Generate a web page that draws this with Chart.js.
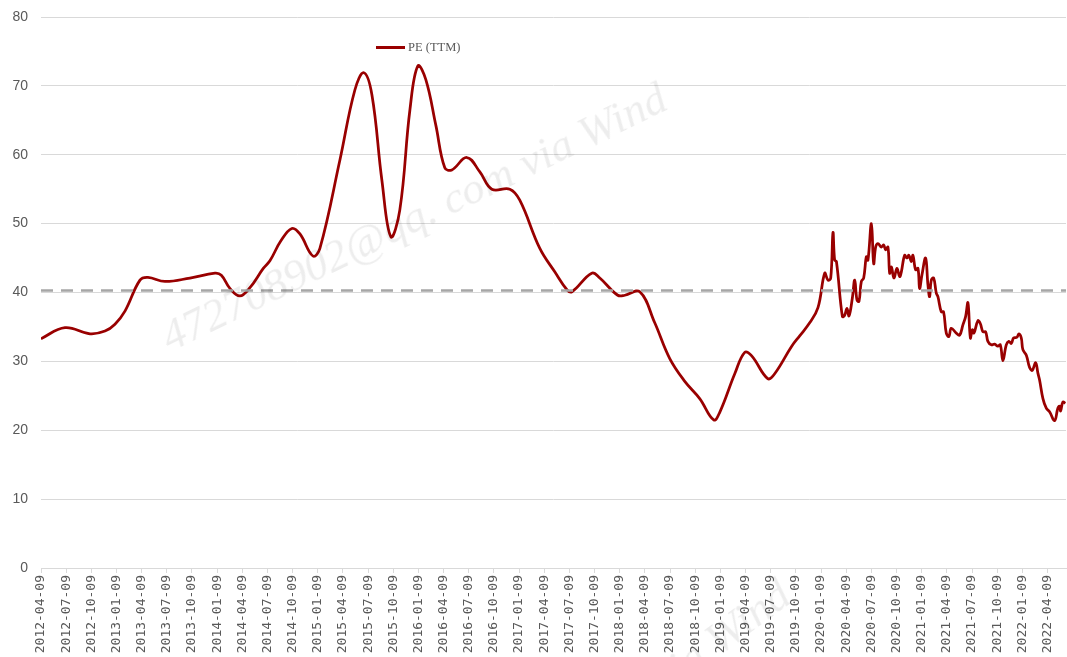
<!DOCTYPE html>
<html lang="zh">
<head>
  <meta charset="UTF-8" />
  <title>PE (TTM)</title>
  <script src="https://cdn.jsdelivr.net/npm/chart.js"></script>
  <style>
    body { margin: 0; background: #fff; }
    .wrap { position: relative; width: 1067px; height: 657px; overflow: hidden; }
    .legend {
      position: absolute; left: 376px; top: 40px;
      font: 12.5px "Liberation Serif", serif; color: #595959;
      display: flex; align-items: center;
    }
    .legend span.swatch { display: inline-block; width: 29px; height: 3px; background: #990000; margin-right: 3px; }
    .mark {
      position: absolute; white-space: nowrap; pointer-events: none;
      font: italic 45px "Liberation Serif", serif; color: rgba(0,0,0,0.07);
      transform-origin: 0 100%;
    }
  </style>
</head>
<body>
  <div class="wrap">
    <canvas id="peChart" width="1067" height="657"></canvas>
    <div class="legend"><span class="swatch"></span>PE (TTM)</div>
    <div class="mark" style="left:175px; top:310px; transform: rotate(-26deg);">472708902@qq. com via Wind</div>
    <div class="mark" style="left:350px; top:885px; transform: rotate(-36deg);">472708902@qq. com via Wind</div>
  </div>

  <script>
    // months elapsed since 2012-04-09
    const xMonths = [
      0, 2.86, 5.84, 7.63, 8.82, 10.01, 11.8, 12.75, 14.78, 17.76, 20.74, 21.5, 22.52, 23.71, 24.91,
      26.5, 27.29, 28.6, 29.91, 30.87, 32.42, 33.25, 35.63, 37.42, 38.49, 39.45, 40.64, 41.71, 42.78, 43.98,
      44.93, 45.88, 47.07, 48.14, 48.98, 50.77, 52.32, 53.75, 55.89, 57.08, 59.47, 61.25, 62.7, 63.3, 65.66,
      66.62, 68.76, 69.6, 71.39, 73.17, 74.96, 76.75, 78.53, 80.2, 80.92, 82.71, 83.9, 84.73, 86.64, 87.47,
      89.5, 90.45, 91.64, 92.63,
      93.43, 93.82, 94.15, 94.42, 94.62, 94.83, 95.54, 95.81, 96.09, 96.33, 96.73, 97.01, 97.28, 97.52,
      97.8, 98.08, 98.4, 98.59, 99.0, 99.27, 99.51, 99.78, 100.19, 100.46, 100.7, 100.97, 101.18, 101.38,
      101.69, 102.04, 102.37, 102.57, 102.96, 103.24, 103.47, 103.76, 103.95, 104.27, 104.55, 104.75,
      105.02, 105.46, 105.74, 105.94, 106.14, 106.42, 106.74, 106.93, 107.33, 107.6, 107.93, 108.24,
      108.52, 109.12, 109.52, 109.91, 110.23, 110.51, 110.8, 111.03, 111.22, 111.7, 111.98, 112.3,
      112.62, 112.89, 113.3, 113.69, 114.08, 114.37, 114.68, 115.08, 115.39, 115.68, 115.95, 116.35,
      116.59, 116.87, 117.06, 117.47, 117.86, 118.18, 118.58, 118.85, 119.05, 119.45, 119.85, 120.24,
      120.84, 121.23, 121.44, 121.56, 121.83, 122.12
    ];
    const peValues = [
      33.3, 34.9, 34.0, 34.4, 35.4, 37.3, 41.8, 42.2, 41.6, 42.1, 42.8, 42.5, 40.6, 39.5, 40.7,
      43.5, 44.6, 47.5, 49.3, 48.5, 45.3, 46.4, 59.2, 69.4, 71.9, 68.7, 56.3, 48.1, 52.0, 66.5,
      72.9, 70.9, 64.3, 58.1, 57.8, 59.6, 57.5, 55.0, 55.0, 53.4, 46.4, 43.0, 40.4, 40.1, 42.8,
      42.1, 39.6, 39.6, 40.1, 35.6, 30.4, 27.1, 24.6, 21.5, 22.6, 28.2, 31.3, 30.8, 27.5, 28.2,
      32.2, 33.7, 35.6, 37.8,
      42.8, 41.8, 42.1, 48.7, 44.7, 44.5, 36.5, 36.7, 37.7, 36.6, 39.2, 41.8, 38.9, 38.7,
      41.6, 42.1, 45.2, 44.7, 50.0, 44.2, 46.6, 47.1, 46.6, 46.9, 46.2, 46.6, 42.8, 43.7,
      42.1, 43.5, 42.3, 43.0, 45.4, 45.0, 45.4, 44.5, 45.4, 43.3, 43.5, 40.6,
      42.5, 45.0, 41.1, 39.4, 41.8, 42.1, 39.9, 39.4, 37.2, 37.2, 34.1, 33.6,
      34.8, 34.1, 33.8, 35.3, 36.5, 38.5, 33.4, 34.6, 34.1, 35.9, 35.5, 34.3,
      34.3, 32.9, 32.4, 32.5, 32.2, 32.4, 30.1, 32.4, 32.9, 32.6, 33.4, 33.5,
      34.0, 33.4, 31.7, 30.9, 29.1, 28.7, 29.8, 28.3, 27.3, 24.6, 23.2, 22.7,
      21.4, 23.2, 23.5, 22.8, 24.1, 23.9
    ];
    const avgPE = 40.3;
    const xEnd = 122.2;

    const tickLabels = [
      '2012-04-09', '2012-07-09', '2012-10-09', '2013-01-09', '2013-04-09', '2013-07-09', '2013-10-09',
      '2014-01-09', '2014-04-09', '2014-07-09', '2014-10-09', '2015-01-09', '2015-04-09', '2015-07-09',
      '2015-10-09', '2016-01-09', '2016-04-09', '2016-07-09', '2016-10-09', '2017-01-09', '2017-04-09',
      '2017-07-09', '2017-10-09', '2018-01-09', '2018-04-09', '2018-07-09', '2018-10-09', '2019-01-09',
      '2019-04-09', '2019-07-09', '2019-10-09', '2020-01-09', '2020-04-09', '2020-07-09', '2020-10-09',
      '2021-01-09', '2021-04-09', '2021-07-09', '2021-10-09', '2022-01-09', '2022-04-09'
    ];

    const ctx = document.getElementById('peChart').getContext('2d');
    new Chart(ctx, {
      type: 'line',
      data: {
        datasets: [
          {
            label: 'avg',
            data: [{ x: 0, y: avgPE }, { x: xEnd, y: avgPE }],
            borderColor: '#a6a6a6',
            borderWidth: 2.5,
            borderDash: [12, 8],
            pointRadius: 0,
            tension: 0
          },
          {
            label: 'PE (TTM)',
            data: xMonths.map((x, i) => ({ x: x, y: peValues[i] })),
            borderColor: '#990000',
            borderWidth: 2.75,
            pointRadius: 0,
            tension: 0.4
          }
        ]
      },
      options: {
        responsive: false,
        animation: false,
        layout: { padding: { left: 0, top: 17, right: 1, bottom: 0 } },
        plugins: {
          legend: { display: false },
          tooltip: { enabled: false }
        },
        scales: {
          x: {
            type: 'linear',
            min: 0,
            max: xEnd,
            afterBuildTicks: s => { s.ticks = tickLabels.map((l, i) => ({ value: i * 3 })); },
            afterFit: s => { s.height = 89; s.paddingTop = 0; s.paddingLeft = 0; s.paddingRight = 0; },
            grid: { drawOnChartArea: false, color: '#d9d9d9', tickLength: 5 },
            border: { color: '#d9d9d9' },
            ticks: {
              autoSkip: false,
              maxRotation: 90,
              minRotation: 90,
              padding: 2,
              color: '#595959',
              font: { family: 'DejaVu Sans Mono', size: 13 },
              callback: v => tickLabels[Math.round(v / 3)]
            }
          },
          y: {
            min: 0,
            max: 80,
            afterFit: s => { s.width = 41; s.paddingTop = 0; s.paddingBottom = 0; },
            grid: { color: '#d9d9d9', drawTicks: false },
            border: { display: false },
            ticks: {
              stepSize: 10,
              padding: 13,
              color: '#595959',
              font: { family: 'Liberation Sans', size: 14 }
            }
          }
        }
      }
    });
  </script>
</body>
</html>
